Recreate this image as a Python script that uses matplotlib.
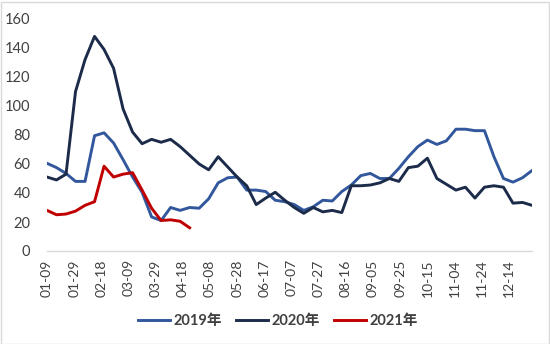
import numpy as np
import pandas as pd
import matplotlib
matplotlib.use("Agg")
import matplotlib.pyplot as plt
import matplotlib.dates as mdates
from matplotlib.patches import Rectangle

plt.rcParams['font.family'] = ['Lato', 'Noto Sans CJK SC', 'DejaVu Sans']

# weekly dates (plotted on a 2020 calendar)
dates = pd.date_range('2020-01-09', periods=52, freq='7D')

y2019 = [60.5, 57.5, 53.5, 48, 48, 79.5, 81.5, 74.5, 63, 51,
         40.5, 23.5, 21, 30, 28, 30, 29.5, 36, 47, 50.5,
         51, 42, 42, 41, 35, 34, 32, 28, 30.5, 35,
         34.5, 41, 45.5, 52, 53.5, 50, 50, 57, 65, 72,
         76.5, 73.5, 76, 84, 84, 83, 83, 65, 50, 47.5,
         50.5, 55.5]
y2020 = [51, 49, 53, 110, 132, 148, 139, 126, 98, 82,
         74, 77, 75, 77, 72, 66, 60, 56, 65, 58,
         51, 45, 32, 36.5, 40.5, 35, 30, 26, 30, 27,
         28, 26.5, 45, 45, 45.5, 47, 50, 48, 57.5, 58.5,
         64, 50, 46, 42, 44, 36.5, 44, 45, 44, 33,
         33.5, 31.5]
y2021 = [28, 25, 25.5, 27.5, 31.5, 34, 58.5, 51, 53, 54,
         42, 29.5, 21, 21.5, 20.5, 16]

labels = ['2019年', '2020年', '2021年']
colors = ['#32579C', '#1C2B4A', '#C00000']

tick_dates = pd.date_range('2020-01-09', '2020-12-14', freq='20D')

fig = plt.figure(figsize=(5.5, 3.44), dpi=100)
ax = fig.add_axes([47 / 550, 1 - 251 / 344, (532 - 47) / 550, (251 - 19) / 344])

ax.plot(dates, y2019, color=colors[0], lw=2.1, label=labels[0])
ax.plot(dates, y2020, color=colors[1], lw=2.1, label=labels[1])
ax.plot(dates[:len(y2021)], y2021, color=colors[2], lw=2.1, label=labels[2])

ax.set_xlim(dates[0], dates[-1])
ax.set_ylim(0, 160)
ax.set_yticks(np.arange(0, 161, 20))
ax.set_xticks(tick_dates)
ax.xaxis.set_major_formatter(mdates.DateFormatter('%m-%d'))
ax.tick_params(axis='x', rotation=90, length=0, pad=6, labelsize=10, colors='#404040')
ax.tick_params(axis='y', length=0, pad=12, labelsize=10.5, colors='#404040')

for s in ['top', 'right', 'left']:
    ax.spines[s].set_visible(False)
ax.spines['bottom'].set_color('#D9D9D9')
ax.spines['bottom'].set_linewidth(1)

leg = fig.legend(loc='center', bbox_to_anchor=(0.505, 1 - 321 / 344), ncol=3,
                 frameon=False, handlelength=2.2, columnspacing=1.0, handletextpad=0.2,
                 prop={'weight': 'bold', 'size': 10.5})
for t in leg.get_texts():
    t.set_color('#404040')

fig.patches.append(Rectangle((0.5 / 550, 0.5 / 344), 548 / 550, 342 / 344,
                             transform=fig.transFigure, fill=False,
                             edgecolor='#D9D9D9', lw=1))

fig.savefig('out.png', dpi=100)
